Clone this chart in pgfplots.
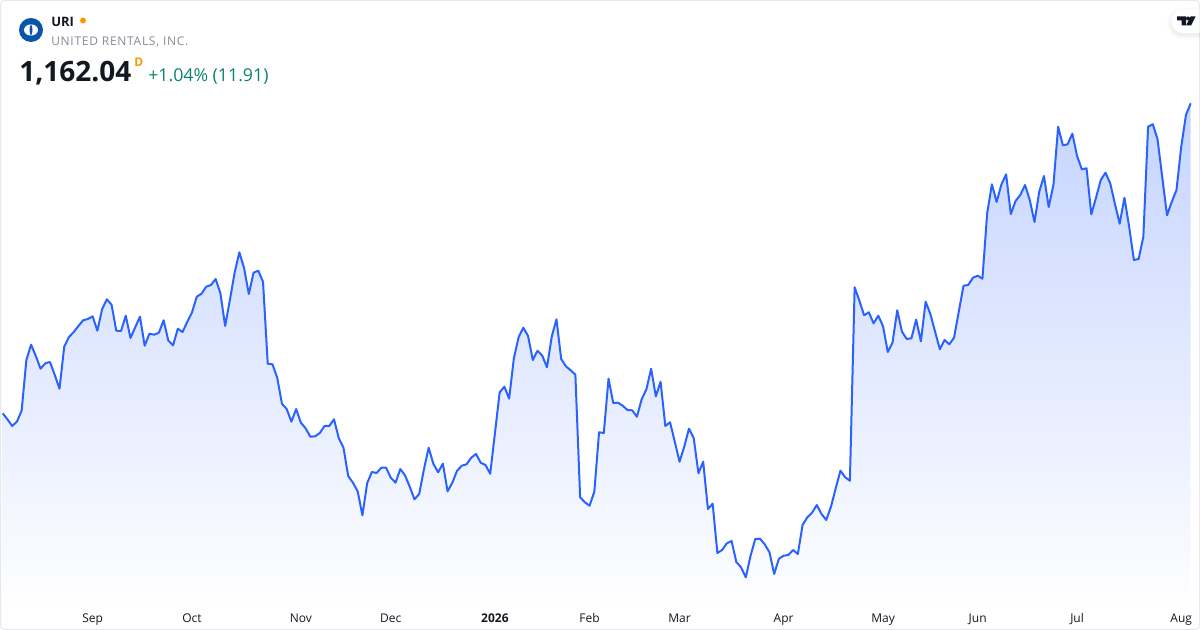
\documentclass[border=0pt]{standalone}
\usepackage{fontspec}
\setmainfont{Open Sans}
\usepackage{pgfplots}
\usepackage{pgfplotstable}
\pgfplotsset{compat=1.18}
\definecolor{linec}{HTML}{2962FF}
\definecolor{gtop}{RGB}{197,212,255}
\definecolor{gbot}{RGB}{254,254,255}
\definecolor{bord}{HTML}{E6E8EE}
\definecolor{sub}{HTML}{878A95}
\definecolor{upc}{HTML}{0B8270}
\definecolor{orng}{HTML}{FF9800}
\definecolor{logoc}{HTML}{0B55A8}
\definecolor{axt}{HTML}{131722}
% i = trading day, y = height, in pixels from the top
\pgfplotstableread{
i y
0 413.3
1 419.3
2 426
3 421.7
4 410.7
5 360
6 344.7
7 356
8 368.7
9 363.3
10 362
11 375
12 388.7
13 346.7
14 337
15 332
16 326
17 320.3
18 319
19 316.3
20 330.7
21 309.3
22 299.3
23 304.7
24 330.7
25 331
26 315.7
27 338
28 327.3
29 316.7
30 345.7
31 333.7
32 334.7
33 332.7
34 320.3
35 340.7
36 345.3
37 328.7
38 332
39 321.7
40 312.3
41 296.7
42 293.7
43 286.7
44 285
45 279
46 293.3
47 326
48 300
49 272.7
50 252.3
51 268
52 294
53 272.7
54 270.7
55 281.7
56 363.7
57 364.3
58 377.7
59 403.7
60 409
61 421.7
62 409
63 422.7
64 428.3
65 436.7
66 436.3
67 433
68 426
69 426
70 419.3
71 438
72 447.7
73 476
74 482.7
75 491.3
76 515.3
77 483.3
78 472
79 473
80 467.7
81 467.7
82 477.7
83 482.7
84 469
85 475.3
86 486.7
87 499.3
88 494
89 469.3
90 447.7
91 464
92 472.3
93 463.7
94 491.3
95 482.7
96 470.7
97 465.7
98 464.3
99 457.7
100 454
101 462.7
102 465
103 473.7
104 433.3
105 392.3
106 386.7
107 398.7
108 358.3
109 337.3
110 327.7
111 336
112 360
113 350.7
114 355.7
115 367.3
116 336.7
117 319.3
118 359
119 366.3
120 370.3
121 374.7
122 497.3
123 502.3
124 505.7
125 491.7
126 432.3
127 433
128 378.7
129 403
130 402.7
131 405.7
132 410
133 410.3
134 416.7
135 399.3
136 389.3
137 368.7
138 396.3
139 381.7
140 426
141 422.3
142 441.7
143 461.7
144 446.7
145 428.7
146 438
147 473.3
148 461.7
149 509
150 503.7
151 553
152 550
153 543.3
154 541
155 562
156 567.3
157 577.3
158 556
159 539
160 538.7
161 544.3
162 552.3
163 574
164 558.7
165 555.7
166 555
167 550
168 554
169 525
170 517.3
171 512.7
172 505
173 514
174 520
175 506.7
176 488.3
177 470.7
178 477.3
179 480.7
180 287.3
181 300.7
182 315.3
183 312.3
184 323.3
185 315.7
186 326.3
187 352
188 342.7
189 310.3
190 331.7
191 339
192 338.3
193 319.7
194 341.3
195 301.7
196 314
197 331.7
198 349.3
199 340
200 344.3
201 337.7
202 311.7
203 285.7
204 285
205 277.7
206 275.7
207 278.7
208 213.3
209 184.3
210 202
211 184.7
212 174.3
213 214
214 201
215 195
216 185
217 200
218 222
219 191.7
220 176
221 207
222 185
223 126.7
224 145.3
225 144.3
226 133.7
227 156
228 169.3
229 168.3
230 214.3
231 197.7
232 180
233 172.7
234 183.3
235 204
236 223.7
237 197.7
238 226.7
239 260
240 259
241 236.7
242 126.7
243 124.3
244 139.3
245 177.3
246 215.3
247 201.7
248 190
249 146.7
250 115
251 103.3
}\prices
\begin{document}
\begin{tikzpicture}
\useasboundingbox (0,0) rectangle (900pt,472.5pt);
\begin{axis}[
  at={(0,0)}, anchor=south west,
  scale only axis, width=900pt, height=472.5pt,
  xmin=-0.5705, xmax=252.97, ymin=0, ymax=630,
  y dir=reverse,
  axis line style={draw=none},
  major tick length=0pt,
  ytick=\empty,
  xticklabel pos=lower,
  xtick={19,40,63,82,104,124,143,165,186,206,227,249},
  xticklabels={Sep,Oct,Nov,Dec,\textbf{2026},Feb,Mar,Apr,May,Jun,Jul,Aug},
  xticklabel style={font=\fontsize{9}{11}\selectfont, text=axt, anchor=center, yshift=9pt, text height=6.6pt, text depth=0pt},
  clip=false,
]
\addplot[draw=none, top color=gtop, bottom color=gbot, forget plot]
  table[x=i,y=y]{\prices} -- (axis cs:251,602) -- (axis cs:0,602) -- cycle;
\addplot[linec, line width=1.5pt, line join=round, forget plot] table[x=i,y=y]{\prices};
\end{axis}
\begin{scope}[shift={(0,472.5pt)}, x=0.75pt, y=-0.75pt]
  \draw[bord, line width=0.75pt, rounded corners=3pt] (0.5,0.5) rectangle (1199.5,629.5);
  % logo
  \fill[logoc] (31,30) circle (12);
  \fill[white] (31,30) ellipse [x radius=7, y radius=5.6];
  \fill[logoc] (31,24.2) .. controls (29,27) and (29,33) .. (31,35.8) .. controls (33,33) and (33,27) .. (31,24.2) -- cycle;
  % texts
  \node[anchor=base west, inner sep=0, font=\fontsize{9.75}{12}\selectfont\bfseries, text=axt] at (51,26.5) {URI};
  \fill[orng] (83,20.5) circle (3);
  \node[anchor=base west, inner sep=0, font=\fontsize{9}{11}\selectfont\addfontfeature{LetterSpace=6}, text=sub] at (51,45.5) {UNITED RENTALS, INC.};
  \node[anchor=base west, inner sep=0, font=\fontsize{21}{25}\selectfont\bfseries, text=axt] at (19,82) {1,162.04};
  \node[anchor=base west, inner sep=0, font=\fontsize{9}{11}\selectfont\bfseries, text=orng] at (134,66.5) {D};
  \node[anchor=base west, inner sep=0, font=\fontsize{13.3}{16}\selectfont, text=upc] at (148,82) {+1.04\% (11.91)};
  % tradingview badge
  \foreach \g in {5,4,3,2,1}{
    \fill[black, opacity=0.012] (1183,11-\g+1.5) -- (1201,11-\g+1.5) -- (1201,33+\g+1.5) -- (1183,33+\g+1.5) arc [start angle=90, end angle=270, radius=11+\g] -- cycle;
  }
  \fill[white] (1183,9.5) -- (1199.5,9.5) -- (1199.5,33) -- (1183,33) arc [start angle=90, end angle=270, radius=11.75] -- cycle;
  \fill[axt] (1177,16.5) -- (1186,16.5) -- (1186,25.5) -- (1181.5,25.5) -- (1181.5,20.5) -- (1177,20.5) -- cycle;
  \fill[axt] (1188,18.5) circle (2);
  \fill[axt] (1190.5,16.5) -- (1195.5,16.5) -- (1191,25.5) -- (1186,25.5) -- cycle;
\end{scope}
\end{tikzpicture}
\end{document}
